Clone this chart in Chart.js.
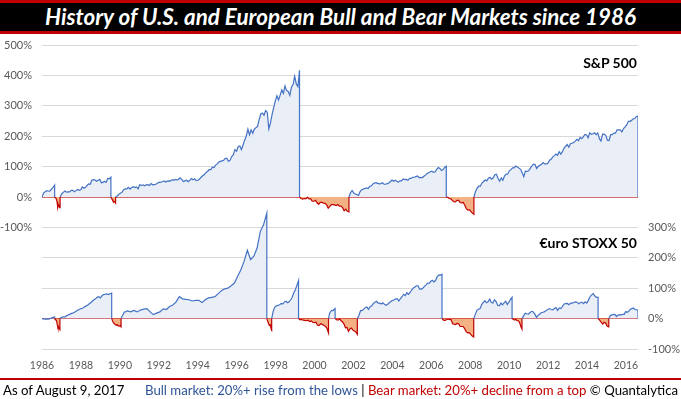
<!DOCTYPE html>
<html>
<head>
<meta charset="utf-8">
<script src="https://cdn.jsdelivr.net/npm/chart.js@4.4.0/dist/chart.umd.min.js"></script>
<style>
  html, body { margin: 0; padding: 0; background: #fff; }
  #wrap { position: relative; width: 681px; height: 399px; overflow: hidden; font-family: Lato, "Open Sans", sans-serif; }
  #chart { position: absolute; left: 0; top: 0; }
  #title { position: absolute; left: 0; top: 0; width: 681px; height: 28px; background: #000;
           border-top: 3px solid #c00000; border-bottom: 3px solid #c00000;
           color: #fff; font-weight: bold; font-style: italic; font-size: 22.4px; line-height: 28px; text-align: center; }
  .tag { position: absolute; right: 44px; font-weight: bold; font-size: 14px; color: #000; line-height: 16px; }
  #footer { position: absolute; left: 0; top: 378px; width: 681px; height: 19px; border-top: 2px solid #c00000;
            font-size: 13.2px; line-height: 20px; white-space: pre; }
  #asof { position: absolute; left: 3px; top: 0; color: #000; }
  #legend { position: absolute; right: 3px; top: 0; color: #000; }
  .bull { color: #2f5597; }
  .bear { color: #c00000; }
</style>
</head>
<body>
<div id="wrap">
  <canvas id="chart" width="681" height="399"></canvas>
  <div id="title">History of U.S. and European Bull and Bear Markets since 1986</div>
  <div class="tag" style="top:55px">S&amp;P 500</div>
  <div class="tag" style="top:235px">€uro STOXX 50</div>
  <div id="footer">
    <span id="asof">As of August 9, 2017</span>
    <span id="legend"><span class="bull">Bull market: 20%+ rise from the lows</span> | <span class="bear">Bear market: 20%+ decline from a top</span> © Quantalytica</span>
  </div>
</div>
<script>
const yearTicks = [1987, 1989, 1991, 1993, 1995, 1997, 1999, 2001, 2003, 2005, 2007, 2009, 2011, 2013, 2015, 2017];
const yearLabels = ['1986', '1988', '1990', '1992', '1994', '1996', '1998', '2000', '2002', '2004', '2006', '2008', '2010', '2012', '2014', '2016'];
const spxTicks = [-100, 0, 100, 200, 300, 400, 500];
const esxTicks = [-100, 0, 100, 200, 300];

// S&P 500, % from the last turning point
const spxBull87 = [0, 13, 17, 21, 19, 20, 26, 32, 39];
const spxBear87 = [0, -2, -4, -8, -16, -33, -25, -30, -32, -33.5];
const spxBull90 = [0, 10, 15, 20, 16, 17, 17, 22, 22, 17, 21, 25, 22, 24, 33, 29, 32, 38, 43, 42, 55, 57, 56, 52, 55, 58, 47, 48, 52, 48, 61, 60, 65];
const spxBear90 = [0, -4, -8, -13, -17, -15, -17, -20];
const spxBull00 = [0, 3, 9, 12,
  16, 24, 27, 27, 32, 26, 31, 34, 31, 33, 27, 41,
  38, 40, 37, 40, 41, 38, 44, 40, 41, 42, 46, 48,
  49, 50, 53, 49, 52, 53, 52, 57, 55, 58, 56, 58,
  63, 58, 51, 53, 55, 50, 55, 61, 57, 60, 54, 55,
  59, 65, 70, 74, 81, 84, 90, 90, 98, 97, 105, 109,
  115, 117, 119, 121, 127, 127, 117, 121, 133, 139, 156, 151,
  166, 168, 156, 171, 187, 200, 223, 204, 221, 210, 223, 228,
  232, 255, 273, 276, 269, 284, 279, 224, 244, 272, 294, 316,
  333, 319, 335, 352, 341, 365, 350, 347, 334, 361, 370, 397,
  372, 363, 417];
const spxBear02 = [0, -5, -7, -5, -6, -1, -6, -6, -14, -14,
  -11, -19, -24, -18, -18, -20, -21, -26, -37, -31, -25, -25,
  -26, -28, -25, -30, -30, -35, -45, -40, -47, -49];
const spxBull07 = [0, 14, 21, 13,
  10, 8, 5, 18, 24, 26, 28, 30, 28, 35, 36, 43,
  46, 47, 45, 43, 44, 47, 42, 42, 44, 46, 51, 56,
  52, 55, 52, 49, 53, 53, 59, 57, 58, 55, 61, 61,
  65, 65, 67, 69, 64, 64, 64, 68, 72, 77, 80, 83,
  85, 81, 83, 91, 97, 94, 87, 90, 97, 101];
const spxBear09 = [0, -1, -5, -6, -12, -15, -16, -11, -11, -18, -19, -18, -26, -38, -43, -42, -47, -53, -57];
const spxBull17 = [0, 18, 29, 36, 36, 46, 51, 56, 53, 62, 65,
  59, 63, 73, 75, 61, 52, 63, 55, 69, 75, 75, 86,
  90, 96, 96, 102, 99, 95, 91, 80, 67, 85, 84, 86,
  94, 102, 108, 107, 94, 101, 104, 108, 113, 109, 109, 111,
  121, 124, 132, 136, 141, 137, 149, 141, 149, 160, 167, 173,
  164, 175, 177, 179, 184, 190, 185, 196, 192, 198, 206, 204,
  195, 211, 206, 208, 211, 205, 211, 192, 184, 207, 207, 202,
  187, 186, 205, 205, 210, 210, 221, 221, 221, 214, 225, 231,
  237, 249, 249, 252, 257, 258, 265, 266];

// Euro STOXX 50, % from the last turning point
const esxBull87 = [0, -1, -2, -1, -2, 0, 2, 4, 5];
const esxBear87 = [0, -3, -5, -8, -20, -30, -28, -33, -36];
const esxBull90 = [0, 4, 6, 5, 9, 12, 14, 17, 18, 21, 24, 28, 30, 33, 34, 38, 41, 44, 48, 52, 57, 62, 65, 70, 72, 68, 75, 79, 80, 81, 79, 82, 84];
const esxBear91 = [0, -8, -14, -17, -20, -22, -20, -24, -25, -23, -27];
const esxBull98 = [0, 21, 25, 22, 27, 22, 28, 31, 33, 22, 13, 18, 22, 32, 30, 40, 45, 55, 72, 65, 63, 62, 58, 60,
  60, 53, 62, 68, 70, 72, 82, 92, 98, 100, 108, 117, 139, 161, 189, 225, 194, 205, 232, 287, 309, 347];
const esxBear98 = [0, -8, -15, -22, -20, -30, -36];
const esxBull00 = [0, 25, 38, 42, 44, 45, 50, 48, 55, 57, 52, 55, 62, 70, 85, 95, 110, 125];
const esxBear01 = [0, -4, -3, -5, -6, -7, -5, -10, -8, -12, -13, -12, -21, -23, -17, -19, -22, -25, -32, -47];
const esxBull02 = [0, 18, 24, 27, 26, 30, 33];
const esxBear03 = [0, -4, -5, -1, -7, -11, -18, -30, -29, -42, -34, -31, -38, -41, -44, -52];
const esxBull07 = [0, 10, 26, 26, 31, 36, 38, 30, 39, 42, 49,
  54, 57, 51, 51, 48, 52, 47, 44, 47, 52, 56, 60,
  61, 65, 65, 58, 66, 72, 80, 76, 85, 80, 86, 94,
  100, 104, 108, 108, 97, 97, 100, 106, 111, 117, 116, 123,
  126, 121, 126, 138, 144, 143, 146];
const esxBear09 = [0, -5, -6, -4, -1.5, -3.6, -3.4, -17, -18, -20, -16, -17, -26, -26, -26, -33, -43, -47, -46, -52, -57, -60];
const esxBull11 = [0, 14, 27, 31, 33, 46, 53, 59, 52, 55, 64, 53, 51, 62, 56, 44, 42, 51, 45, 52, 57, 46, 54, 63, 70];
const esxBear11 = [0, -2, -5, -2, -7, -7, -12, -25, -34];
const esxBull15 = [0, 9, 18, 16, 15, 20, 24, 22, 14, 4, 11, 15, 20, 21, 23, 27, 30, 33, 30, 29, 33, 36, 27, 35,
  33, 40, 48, 49, 50, 46, 51, 51, 53, 55, 54, 49, 52, 54, 49, 55, 51, 60, 72, 78, 82, 74, 70, 70];
const esxBear16 = [0, -5, -12, -18, -12, -15, -25, -27];
const esxBull17 = [0, 10, 12, 13, 14, 7, 12, 13, 12, 14, 14, 23, 21, 24, 31, 33, 35, 30, 29, 28];

// [kind, start, end, values]
const spxPhases = [
  ['bull', 1987.00, 1987.65, spxBull87], ['bear', 1987.65, 1987.93, spxBear87],
  ['bull', 1987.93, 1990.54, spxBull90], ['bear', 1990.54, 1990.78, spxBear90],
  ['bull', 1990.78, 2000.23, spxBull00], ['bear', 2000.23, 2002.77, spxBear02],
  ['bull', 2002.77, 2007.77, spxBull07], ['bear', 2007.77, 2009.19, spxBear09],
  ['bull', 2009.19, 2017.62, spxBull17]
];
const esxPhases = [
  ['bull', 1987.00, 1987.65, esxBull87], ['bear', 1987.65, 1987.92, esxBear87],
  ['bull', 1987.92, 1990.58, esxBull90], ['bear', 1990.58, 1991.06, esxBear91],
  ['bull', 1991.06, 1998.55, esxBull98], ['bear', 1998.55, 1998.80, esxBear98],
  ['bull', 1998.80, 2000.18, esxBull00], ['bear', 2000.18, 2001.72, esxBear01],
  ['bull', 2001.72, 2002.06, esxBull02], ['bear', 2002.06, 2003.20, esxBear03],
  ['bull', 2003.20, 2007.55, esxBull07], ['bear', 2007.55, 2009.18, esxBear09],
  ['bull', 2009.18, 2011.15, esxBull11], ['bear', 2011.15, 2011.66, esxBear11],
  ['bull', 2011.66, 2015.57, esxBull15], ['bear', 2015.57, 2016.12, esxBear16],
  ['bull', 2016.12, 2017.62, esxBull17]
];

function buildSeries(phases, kind) {
  let pts = [];
  phases.forEach(function(p) {
    if (p[0] !== kind) return;
    let start = p[1], end = p[2], vals = p[3], n = vals.length;
    vals.forEach(function(v, i) {
      pts.push({x: start + (end - start) * i / (n - 1), y: v});
    });
    pts.push({x: end, y: 0});
    pts.push({x: end, y: null});
  });
  return pts;
}

function makeSet(phases, kind, axis) {
  let bull = kind === 'bull';
  return {
    data: buildSeries(phases, kind),
    yAxisID: axis,
    borderColor: bull ? '#4472c4' : '#c00000',
    backgroundColor: bull ? '#e9eef7' : '#f4b183',
    borderWidth: 1.2,
    pointRadius: 0,
    tension: 0,
    fill: 'origin',
    spanGaps: false
  };
}

function gridColor(zero) {
  return function(ctx) {
    return ctx.tick && ctx.tick.value === 0 ? zero : '#d9d9d9';
  };
}

Chart.defaults.font.family = 'Lato, "Open Sans", sans-serif';
Chart.defaults.font.size = 11;
Chart.defaults.color = '#595959';

new Chart(document.getElementById('chart'), {
  type: 'line',
  data: {
    datasets: [
      makeSet(spxPhases, 'bull', 'y'), makeSet(spxPhases, 'bear', 'y'),
      makeSet(esxPhases, 'bull', 'y2'), makeSet(esxPhases, 'bear', 'y2')
    ]
  },
  options: {
    responsive: false,
    animation: false,
    devicePixelRatio: 1,
    layout: { padding: { top: 45, left: 0, right: 0, bottom: 0 } },
    plugins: { legend: { display: false }, tooltip: { enabled: false } },
    scales: {
      x: {
        type: 'linear',
        min: 1987.0,
        max: 2017.62,
        grid: { display: false, drawTicks: false },
        border: { display: false },
        afterBuildTicks: function(axis) { axis.ticks = yearTicks.map(v => ({value: v})); },
        afterFit: function(axis) { axis.height = 50; },
        ticks: { autoSkip: false, maxRotation: 0, padding: 10, font: { size: 10.5 },
                 callback: function(v, i) { return yearLabels[i]; } }
      },
      y: {
        position: 'left',
        min: -500,
        max: 500,
        grid: { color: gridColor('#d96b6b'), drawTicks: false },
        border: { display: false },
        afterBuildTicks: function(axis) { axis.ticks = spxTicks.map(v => ({value: v})); },
        afterFit: function(axis) { axis.width = 42; },
        ticks: { padding: 10, callback: v => v + '%' }
      },
      y2: {
        position: 'right',
        min: -100,
        max: 900,
        grid: { color: gridColor('#c00000'), drawTicks: false },
        border: { display: false },
        afterBuildTicks: function(axis) { axis.ticks = esxTicks.map(v => ({value: v})); },
        afterFit: function(axis) { axis.width = 43; },
        ticks: { padding: 10, callback: v => v + '%' }
      }
    }
  }
});
</script>
</body>
</html>
